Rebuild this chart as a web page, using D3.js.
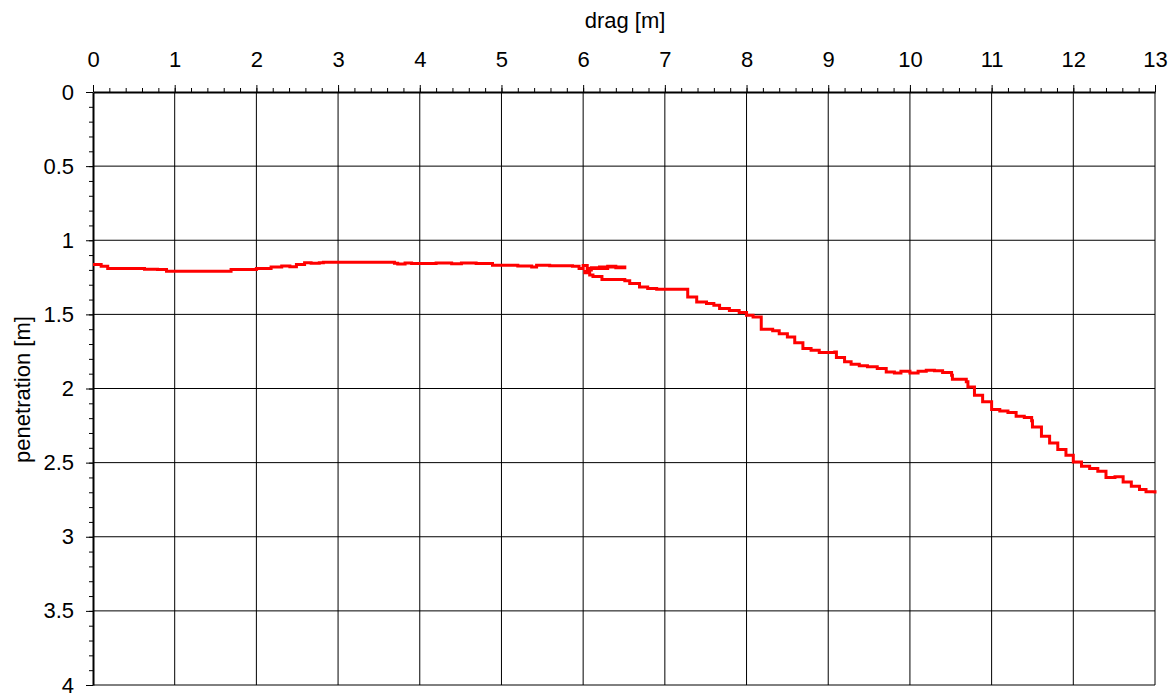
<!DOCTYPE html>
<html>
<head>
<meta charset="utf-8">
<script src="https://cdn.jsdelivr.net/npm/d3@7"></script>
<style>
  body { margin: 0; background: #fff; }
  text { font-family: "Liberation Sans", Arial, sans-serif; }
</style>
</head>
<body>
<script>
// values (drag along, penetration down)
var dragX = [0.00, 0.10, 0.18, 0.63, 0.79, 0.90, 1.69, 2.00, 2.18, 2.31, 2.41, 2.49, 2.59, 2.67, 2.77, 2.82,
  3.69, 3.73, 3.82, 3.90, 4.20, 4.39, 4.51, 4.69, 4.89, 5.20, 5.37, 5.43, 5.59, 5.87,
  5.95, 6.00, 6.05, 6.10, 6.20, 6.30, 6.40, 6.51, 6.30, 6.05, 6.02, 6.08, 6.12, 6.23, 6.51, 6.57,
  6.69, 6.79, 6.90, 7.28, 7.39, 7.51, 7.60, 7.67, 7.79, 7.91, 8.00, 8.08, 8.18, 8.32,
  8.40, 8.50, 8.59, 8.69, 8.79, 8.89, 9.08, 9.10, 9.20, 9.28, 9.38, 9.48, 9.60, 9.71, 9.81, 9.89,
  10.00, 10.10, 10.20, 10.30, 10.40, 10.51, 10.52, 10.69, 10.71, 10.79, 10.89, 11.00, 11.10, 11.20,
  11.30, 11.40, 11.49, 11.50, 11.61, 11.71, 11.81, 11.91, 12.00, 12.10, 12.20, 12.30, 12.40, 12.51,
  12.61, 12.71, 12.81, 12.89, 13.00];
var penetration = [1.164, 1.175, 1.191, 1.195, 1.198, 1.209, 1.198, 1.191, 1.180, 1.173, 1.178, 1.164, 1.151, 1.155, 1.151, 1.148,
  1.155, 1.160, 1.153, 1.157, 1.153, 1.158, 1.153, 1.157, 1.169, 1.173, 1.180, 1.169, 1.172, 1.176,
  1.190, 1.170, 1.200, 1.185, 1.180, 1.175, 1.185, 1.180, 1.190, 1.210, 1.220, 1.235, 1.245, 1.265, 1.274, 1.292,
  1.315, 1.326, 1.330, 1.382, 1.416, 1.427, 1.438, 1.461, 1.474, 1.488, 1.506, 1.517, 1.600, 1.610,
  1.630, 1.652, 1.692, 1.730, 1.742, 1.757, 1.753, 1.791, 1.820, 1.836, 1.847, 1.854, 1.865, 1.888, 1.895, 1.883,
  1.895, 1.883, 1.877, 1.881, 1.892, 1.910, 1.937, 1.955, 1.990, 2.045, 2.090, 2.142, 2.151, 2.162,
  2.187, 2.196, 2.218, 2.259, 2.322, 2.367, 2.411, 2.450, 2.495, 2.524, 2.540, 2.558, 2.600, 2.596,
  2.630, 2.659, 2.681, 2.697, 2.708];

// tick labels
var xTickValues = [0, 1, 2, 3, 4, 5, 6, 7, 8, 9, 10, 11, 12, 13];
var yTickValues = [0, 0.5, 1, 1.5, 2, 2.5, 3, 3.5, 4];

var margin = {top: 92, right: 21, bottom: 8, left: 93};
var width = 1176 - margin.left - margin.right,
    height = 693 - margin.top - margin.bottom;

var svg = d3.select("body").append("svg")
  .attr("width", 1176)
  .attr("height", 693)
  .attr("id", "svg-a");

var plot = svg.append("g")
  .attr("transform", "translate(" + margin.left + "," + margin.top + ")");

// scales
var xScale = d3.scaleLinear().domain([0, 13]).range([0, width]);
var yScale = d3.scaleLinear().domain([0, 4]).range([0, height]);

// grid lines
plot.append("g")
  .selectAll("line.vgrid")
  .data(xTickValues.slice(1))
  .enter().append("line")
  .attr("x1", function(d) { return xScale(d); })
  .attr("x2", function(d) { return xScale(d); })
  .attr("y1", 0)
  .attr("y2", height)
  .attr("stroke", "#000")
  .attr("stroke-width", 1);

plot.append("g")
  .selectAll("line.hgrid")
  .data(yTickValues.slice(1))
  .enter().append("line")
  .attr("x1", 0)
  .attr("x2", width)
  .attr("y1", function(d) { return yScale(d); })
  .attr("y2", function(d) { return yScale(d); })
  .attr("stroke", "#000")
  .attr("stroke-width", 1);

// minor ticks
plot.append("g")
  .call(d3.axisTop(xScale).tickValues(d3.range(0, 13.01, 0.2)).tickSize(4).tickFormat(""))
  .call(function(g) { g.select(".domain").remove(); })
  .selectAll("line").attr("stroke", "#000");

plot.append("g")
  .call(d3.axisLeft(yScale).tickValues(d3.range(0, 4.001, 0.1)).tickSize(4).tickFormat(""))
  .call(function(g) { g.select(".domain").remove(); })
  .selectAll("line").attr("stroke", "#000");

// major axes
var xAxis = plot.append("g")
  .attr("id", "x-axis-a")
  .call(d3.axisTop(xScale).tickValues(xTickValues).tickSize(7).tickPadding(18).tickSizeOuter(0)
    .tickFormat(function(d) { return d; }));
xAxis.select(".domain").attr("stroke-width", 2);
xAxis.selectAll("text").style("font-size", "22px").attr("fill", "#000");

var yAxis = plot.append("g")
  .attr("id", "y-axis-a")
  .call(d3.axisLeft(yScale).tickValues(yTickValues).tickSize(7).tickPadding(12).tickSizeOuter(0)
    .tickFormat(function(d) { return d; }));
yAxis.select(".domain").attr("stroke-width", 2);
yAxis.selectAll("text").style("font-size", "22px").attr("fill", "#000");

// axis titles
svg.append("text")
  .attr("x", margin.left + width / 2 + 1)
  .attr("y", 28)
  .attr("text-anchor", "middle")
  .style("font-size", "22px")
  .text("drag [m]");

svg.append("text")
  .attr("transform", "translate(30," + (margin.top + height / 2 + 1) + ") rotate(-90)")
  .attr("text-anchor", "middle")
  .style("font-size", "22px")
  .text("penetration [m]");

// the trace
var points = dragX.map(function(x, i) { return {x: x, y: penetration[i]}; });
var line = d3.line()
  .x(function(d) { return xScale(d.x); })
  .y(function(d) { return yScale(d.y); })
  .curve(d3.curveStepAfter);

plot.append("path")
  .datum(points)
  .attr("d", line)
  .attr("fill", "none")
  .attr("stroke", "#ff0000")
  .attr("stroke-width", 3);
</script>
</body>
</html>
